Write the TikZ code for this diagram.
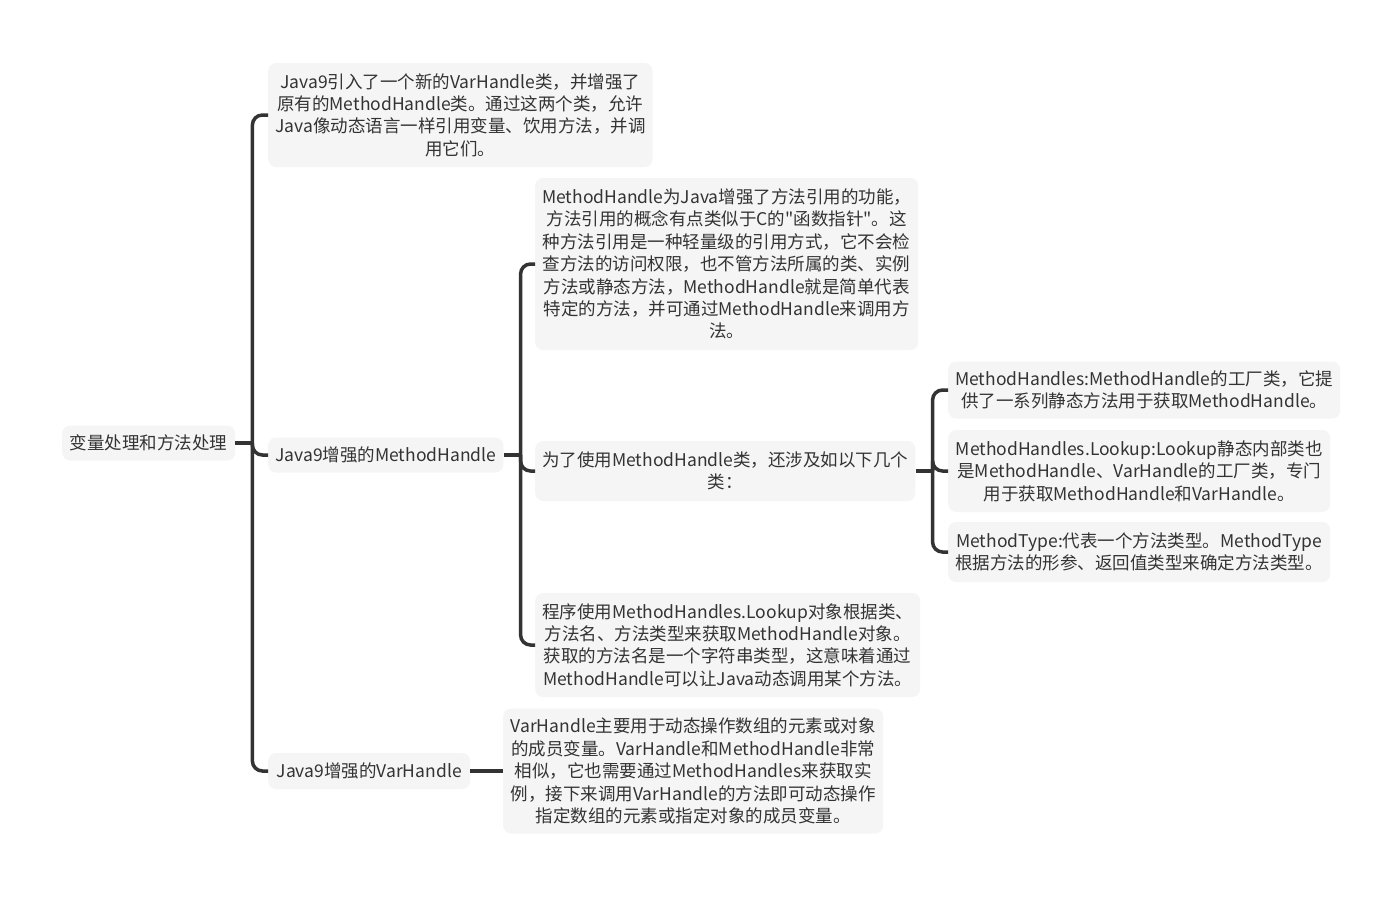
\documentclass[tikz,border=0pt]{standalone}
\usepackage{fontspec}
\newfontfamily\cjk{Noto Sans CJK SC}
\usepackage{tikz}
\usetikzlibrary{calc,positioning}
\definecolor{boxgray}{HTML}{F5F5F5}
\definecolor{textgray}{HTML}{333333}
\definecolor{linegray}{HTML}{333333}

\tikzset{
  box/.style={fill=boxgray, rounded corners=8pt, text=textgray, align=center,
              anchor=west, inner xsep=7pt, inner ysep=6pt,
              font=\cjk\fontsize{17.5}{22.4}\selectfont},
  link/.style={draw=linegray, line width=3.5pt, rounded corners=10pt},
}

\begin{document}
\begin{tikzpicture}[x=1pt,y=-1pt]
    \useasboundingbox[fill=white] (0,0) rectangle (1400,897);

    \node[box, minimum width=173pt, minimum height=35pt] (root) at (62,443)
        {变量处理和方法处理};

    \node[box, minimum width=384pt, minimum height=104pt] (intro) at (268,115)
        {Java9引入了一个新的VarHandle类，并增强了\\
         原有的MethodHandle类。通过这两个类，允许\\
         Java像动态语言一样引用变量、饮用方法，并调\\
         用它们。};
    \node[box, minimum width=234pt, minimum height=35pt] (mh) at (268,455)
        {Java9增强的MethodHandle};
    \node[box, minimum width=202pt, minimum height=36pt] (vh) at (268,771)
        {Java9增强的VarHandle};

    \node[box, minimum width=382pt, minimum height=172pt] (mhdesc) at (535,264)
        {MethodHandle为Java增强了方法引用的功能，\\
         方法引用的概念有点类似于C的"函数指针"。这\\
         种方法引用是一种轻量级的引用方式，它不会检\\
         查方法的访问权限，也不管方法所属的类、实例\\
         方法或静态方法，MethodHandle就是简单代表\\
         特定的方法，并可通过MethodHandle来调用方\\
         法。};
    \node[box, minimum width=380pt, minimum height=60pt] (uses) at (535,471)
        {为了使用MethodHandle类，还涉及如以下几个\\
         类：};
    \node[box, minimum width=385pt, minimum height=104pt] (prog) at (535,645)
        {程序使用MethodHandles.Lookup对象根据类、\\
         方法名、方法类型来获取MethodHandle对象。\\
         获取的方法名是一个字符串类型，这意味着通过\\
         MethodHandle可以让Java动态调用某个方法。};

    \node[box, minimum width=389pt, minimum height=57pt] (mhs) at (948,390)
        {MethodHandles:MethodHandle的工厂类，它提\\
         供了一系列静态方法用于获取MethodHandle。};
    \node[box, minimum width=382pt, minimum height=82pt] (lookup) at (948,471)
        {MethodHandles.Lookup:Lookup静态内部类也\\
         是MethodHandle、VarHandle的工厂类，专门\\
         用于获取MethodHandle和VarHandle。};
    \node[box, minimum width=382pt, minimum height=60pt] (mtype) at (948,552)
        {MethodType:代表一个方法类型。MethodType\\
         根据方法的形参、返回值类型来确定方法类型。};

    \node[box, minimum width=380pt, minimum height=125pt] (vhdesc) at (503,771)
        {VarHandle主要用于动态操作数组的元素或对象\\
         的成员变量。VarHandle和MethodHandle非常\\
         相似，它也需要通过MethodHandles来获取实\\
         例，接下来调用VarHandle的方法即可动态操作\\
         指定数组的元素或指定对象的成员变量。};

    \coordinate (rootfork) at ($(root.east)+(17,0)$);
    \coordinate (mhfork) at ($(mh.east)+(17,0)$);
    \coordinate (usesfork) at ($(uses.east)+(17,0)$);

    \draw[link] (root.east) -- (rootfork);
    \foreach \c in {intro,mh,vh}
      \draw[link] (rootfork) |- (\c.west);

    \draw[link] (mh.east) -- (mhfork);
    \foreach \c in {mhdesc,uses,prog}
      \draw[link] (mhfork) |- (\c.west);

    \draw[link] (uses.east) -- (usesfork);
    \foreach \c in {mhs,lookup,mtype}
      \draw[link] (usesfork) |- (\c.west);

    \draw[link] (vh.east) -- (vhdesc.west);
\end{tikzpicture}
\end{document}
